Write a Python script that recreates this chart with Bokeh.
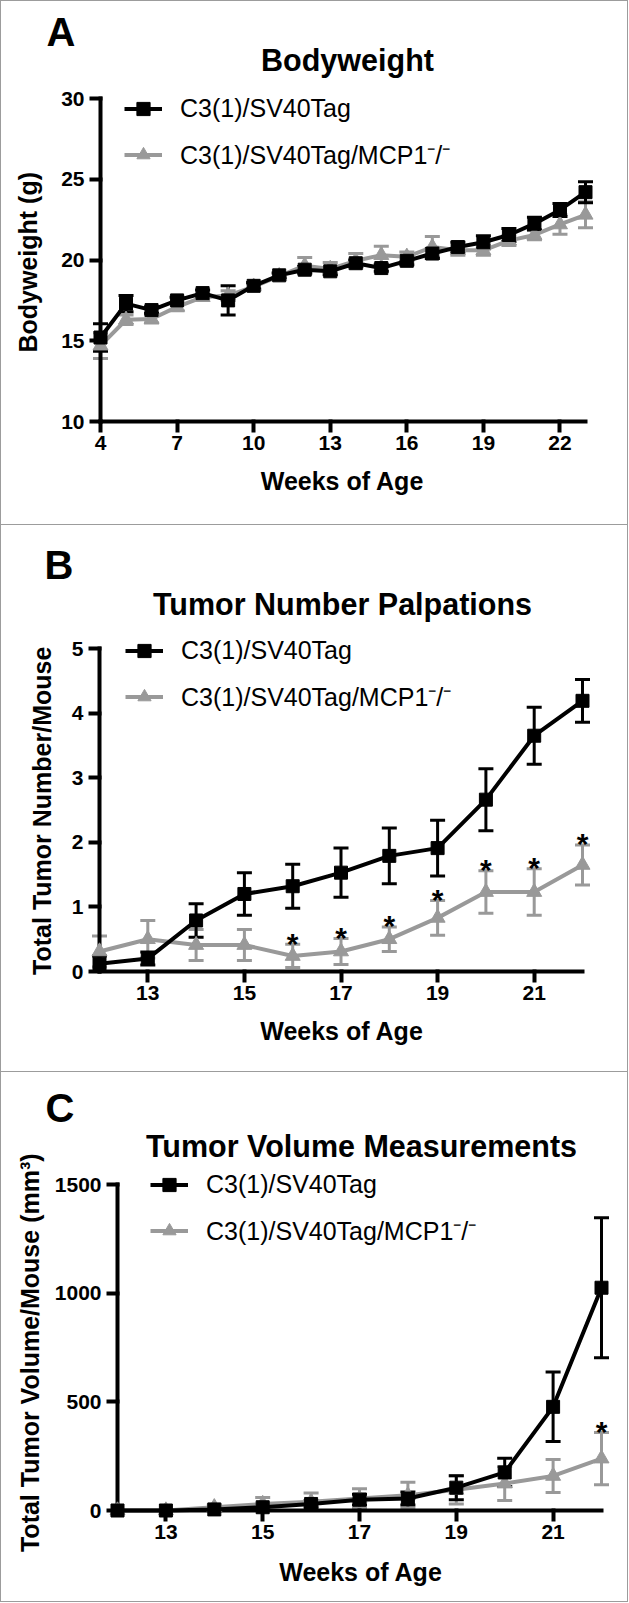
from bokeh.plotting import figure
from bokeh.models import (Range1d, FixedTicker, Whisker, TeeHead, ColumnDataSource,
                          Legend, LegendItem, Label, LinearAxis)
from bokeh.layouts import column
from bokeh.embed import file_html
from bokeh.resources import INLINE
from bokeh.core.properties import value

# ---------------- data ----------------
weeks_a = [4, 5, 6, 7, 8, 9, 10, 11, 12, 13, 14, 15, 16, 17, 18, 19, 20, 21, 22, 23]
bw_tag = [15.2, 17.3, 16.9, 17.5, 17.95, 17.5, 18.4, 19.05, 19.4, 19.3, 19.8, 19.5,
          19.95, 20.4, 20.8, 21.1, 21.55, 22.25, 23.1, 24.2]
bw_tag_err = [0.85, 0.5, 0.2, 0.2, 0.2, 0.9, 0.2, 0.15, 0.2, 0.2, 0.2, 0.2,
              0.25, 0.3, 0.3, 0.4, 0.4, 0.4, 0.4, 0.65]
bw_ko = [14.7, 16.3, 16.35, 17.1, 17.7, 17.8, 18.35, 19.0, 19.65, 19.45, 19.95, 20.3,
         20.2, 20.8, 20.6, 20.6, 21.2, 21.55, 22.2, 22.8]
bw_ko_err = [0.8, 0.3, 0.25, 0.25, 0.2, 0.3, 0.2, 0.2, 0.5, 0.4, 0.45, 0.55,
             0.3, 0.65, 0.3, 0.3, 0.3, 0.3, 0.6, 0.8]

weeks_bc = [12, 13, 14, 15, 16, 17, 18, 19, 20, 21, 22]
num_tag = [0.12, 0.2, 0.79, 1.2, 1.32, 1.53, 1.79, 1.91, 2.66, 3.65, 4.19]
num_tag_err = [0.12, 0.1, 0.26, 0.33, 0.34, 0.38, 0.43, 0.43, 0.48, 0.44, 0.33]
num_ko = [0.31, 0.5, 0.41, 0.41, 0.24, 0.31, 0.5, 0.83, 1.23, 1.23, 1.65]
num_ko_err = [0.24, 0.29, 0.24, 0.24, 0.18, 0.2, 0.19, 0.27, 0.33, 0.36, 0.31]
num_sig_weeks = [16, 17, 18, 19, 20, 21, 22]

vol_tag = [0, 0, 5, 15, 30, 50, 55, 105, 175, 477, 1025]
vol_tag_err = [0, 0, 5, 10, 15, 25, 30, 55, 65, 160, 322]
vol_ko = [0, 0, 15, 30, 40, 55, 70, 95, 124, 159, 239]
vol_ko_err = [0, 0, 10, 30, 40, 45, 60, 65, 78, 76, 120]
vol_sig_weeks = [22]

xticks_a = [4, 7, 10, 13, 16, 19, 22]
yticks_a = [10, 15, 20, 25, 30]
xticks_bc = [13, 15, 17, 19, 21]
yticks_b = [0, 1, 2, 3, 4, 5]
yticks_c = [0, 500, 1000, 1500]

LABEL_TAG = "C3(1)/SV40Tag"
LABEL_KO = "C3(1)/SV40Tag/MCP1\u207b/\u207b"

# ---------------- style ----------------
FONT = "Liberation Sans"
BLACK = "#000000"
GREY = "#999999"
BORDER = "#9c9c9c"
WIDTH = 628
TICK = 11          # outward tick length (px)
AXW = 4            # axis line width
NBSP = "\u00a0"


def make_panel(cfg):
    H = cfg["height"]
    x0p, x1p, ytp, ybp = cfg["px"]          # pixel positions of xmin, xmax, ymax, ymin
    frame_top, frame_right = cfg["frame_tr"]
    xmin, xmax = cfg["xlim"]
    ymin, ymax = cfg["ylim"]
    sx = (x1p - x0p) / (xmax - xmin)
    sy = (ybp - ytp) / (ymax - ymin)
    fl, fb = x0p - TICK, ybp + TICK

    p = figure(width=WIDTH, height=H, output_backend="svg", toolbar_location=None,
               x_range=Range1d(xmin - TICK / sx, xmax + (frame_right - x1p) / sx),
               y_range=Range1d(ymin - TICK / sy, ymax + (ytp - frame_top) / sy),
               x_axis_location=None, y_axis_location=None,
               min_border_left=fl, min_border_right=WIDTH - frame_right,
               min_border_top=frame_top, min_border_bottom=H - fb)
    p.frame_align = False
    p.grid.visible = False
    p.outline_line_color = None
    p.background_fill_color = None
    p.border_fill_color = None

    def to_data(px, py):
        return xmin + (px - x0p) / sx, ymin + (ybp - py) / sy

    # the y label is centred on the frame by Bokeh; pad its end so the visible
    # words sit centred on the axis span as in the original
    ylabel = cfg["ylabel"] + NBSP * cfg["ylab_pad"]
    xaxis = LinearAxis(bounds=(xmin, xmax), ticker=FixedTicker(ticks=cfg["xticks"]),
                       axis_label="Weeks of Age")
    yaxis = LinearAxis(bounds=(ymin, ymax), ticker=FixedTicker(ticks=cfg["yticks"]),
                       axis_label=ylabel)
    for ax in (xaxis, yaxis):
        ax.axis_line_color = None
        ax.major_tick_line_width = AXW
        ax.major_tick_line_color = BLACK
        ax.major_tick_out = 0
        ax.major_tick_in = TICK + AXW // 2
        ax.minor_tick_line_color = None
        ax.major_label_text_font = FONT
        ax.major_label_text_font_size = "21px"
        ax.major_label_text_font_style = "bold"
        ax.major_label_text_color = BLACK
        ax.axis_label_text_font = FONT
        ax.axis_label_text_font_size = "25px"
        ax.axis_label_text_font_style = "bold"
        ax.axis_label_text_color = BLACK
    xaxis.major_label_standoff = 3
    yaxis.major_label_standoff = 5
    xaxis.axis_label_standoff = cfg["xlab_standoff"]
    yaxis.axis_label_standoff = cfg["ylab_standoff"]
    if cfg.get("ylab_baseline"):
        yaxis.axis_label_text_baseline = cfg["ylab_baseline"]
    p.add_layout(xaxis, "below")
    p.add_layout(yaxis, "left")

    # axis rules drawn through the data scales, crossing at (xmin, ymin)
    p.segment(x0=[xmin, xmin], y0=[ymin, ymin], x1=[xmin, xmax], y1=[ymax, ymin],
              line_color=BLACK, line_width=AXW, line_cap="square")

    items = {}
    for key, vals, errs, color, marker, size in cfg["series"]:
        src = ColumnDataSource(dict(
            x=cfg["weeks"], y=vals,
            upper=[v + e for v, e in zip(vals, errs)],
            lower=[v - e for v, e in zip(vals, errs)]))
        w = Whisker(source=src, base="x", upper="upper", lower="lower",
                    line_color=color, line_width=3,
                    upper_head=TeeHead(size=15, line_color=color, line_width=3),
                    lower_head=TeeHead(size=15, line_color=color, line_width=3))
        p.add_layout(w)
        lr = p.line("x", "y", source=src, line_color=color, line_width=4)
        sr = p.scatter("x", "y", source=src, marker=marker, size=size,
                       fill_color=color, line_color=color)
        items[key] = (lr, sr, src)

    legend = Legend(items=[LegendItem(label=LABEL_TAG, renderers=list(items["tag"][:2])),
                           LegendItem(label=LABEL_KO, renderers=list(items["ko"][:2]))],
                    location=cfg["legend_loc"], margin=0, padding=0,
                    glyph_width=38, glyph_height=33, label_height=33, label_standoff=18,
                    spacing=12, border_line_color=None, background_fill_alpha=0,
                    label_text_font=FONT, label_text_font_size="25px",
                    label_text_color=BLACK)
    p.add_layout(legend)

    # significance asterisks above the knockout error bars
    if cfg["sig"]:
        ko = items["ko"][2].data
        sig_x = [wk for wk in cfg["sig"]]
        sig_y = [ko["upper"][ko["x"].index(wk)] for wk in cfg["sig"]]
        p.text(x=sig_x, y=sig_y, text=["*"] * len(sig_x),
               text_font=value(FONT), text_font_size=value("30px"),
               text_font_style=value("bold"), text_align=value("center"),
               text_baseline=value("alphabetic"), text_color=BLACK, y_offset=-1)

    tx, ty = to_data(*cfg["title_pos"])
    p.add_layout(Label(x=tx, y=ty, text=cfg["title"], text_font=FONT, text_font_size="30.5px",
                       text_font_style="bold", text_align="center", text_baseline="alphabetic",
                       text_color=BLACK))

    # panel letter as the figure title, pulled left/down to its spot
    lx, lbase = cfg["letter_pos"]
    p.title.text = cfg["letter"]
    p.title.text_font = FONT
    p.title.text_font_size = "40px"
    p.title.text_font_style = "bold"
    p.title.text_color = BLACK
    p.title.align = "left"
    p.title.vertical_align = "bottom"
    p.title.offset = lx - fl
    p.title.standoff = int(round(2 * (frame_top - (lbase + 8.5))))

    p.styles = cfg["css"]
    return p


pA = make_panel(dict(
    height=525, px=(100, 585, 98, 421), frame_tr=(36, 595),
    xlim=(4, 23), ylim=(10, 30), xticks=xticks_a, yticks=yticks_a,
    ylabel="Bodyweight (g)", ylab_pad=8, weeks=weeks_a, xlab_standoff=14, ylab_standoff=16,
    series=[("ko", bw_ko, bw_ko_err, GREY, "triangle", 15),
            ("tag", bw_tag, bw_tag_err, BLACK, "square", 13)],
    legend_loc=(35, 261), sig=[],
    title="Bodyweight", title_pos=(347, 59), letter="A", letter_pos=(46, 45),
    css={"outline": "1px solid " + BORDER, "outline-offset": "-1px"}))

pB = make_panel(dict(
    height=546, px=(99, 582, 123, 446), frame_tr=(58, 595),
    xlim=(12, 22), ylim=(0, 5), xticks=xticks_bc, yticks=yticks_b,
    ylabel="Total Tumor Number/Mouse", ylab_pad=8, weeks=weeks_bc, xlab_standoff=14,
    ylab_standoff=13,
    series=[("ko", num_ko, num_ko_err, GREY, "triangle", 15),
            ("tag", num_tag, num_tag_err, BLACK, "square", 13)],
    legend_loc=(37, 269), sig=num_sig_weeks,
    title="Tumor Number Palpations", title_pos=(342, 78), letter="B", letter_pos=(44, 53),
    css={"box-shadow": "inset 1px 0 0 " + BORDER + ", inset -1px 0 0 " + BORDER}))

pC = make_panel(dict(
    height=531, px=(117, 601, 113, 439), frame_tr=(50, 615),
    xlim=(12, 22), ylim=(0, 1500), xticks=xticks_bc, yticks=yticks_c,
    ylabel="Total Tumor Volume/Mouse (mm\u00b3)", ylab_pad=9, weeks=weeks_bc, xlab_standoff=16,
    ylab_standoff=8, ylab_baseline="alphabetic",
    series=[("ko", vol_ko, vol_ko_err, GREY, "triangle", 15),
            ("tag", vol_tag, vol_tag_err, BLACK, "square", 13)],
    legend_loc=(44, 274), sig=vol_sig_weeks,
    title="Tumor Volume Measurements", title_pos=(361, 74), letter="C", letter_pos=(45, 50),
    css={"outline": "1px solid " + BORDER, "outline-offset": "-1px"}))

layout = column(pA, pB, pC, spacing=0)
open("out.html", "w").write(file_html(layout, INLINE))
